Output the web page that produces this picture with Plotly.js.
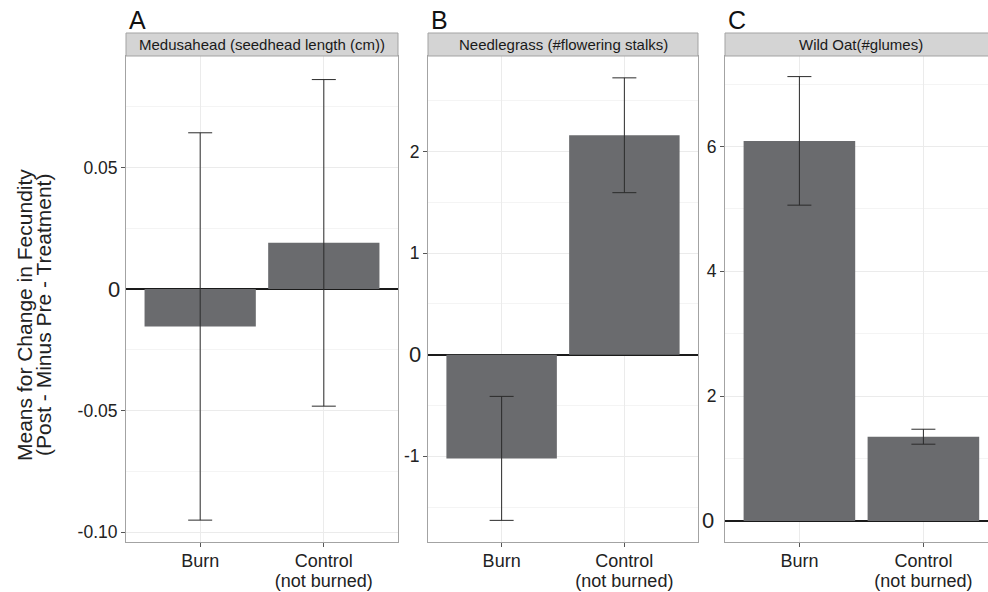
<!DOCTYPE html>
<html>
<head>
<meta charset="utf-8">
<script src="https://cdn.plot.ly/plotly-3.0.1.min.js"></script>
<style>html,body{margin:0;padding:0;background:#fff;}#chart{width:988px;height:592px;}</style>
</head>
<body>
<div id="chart"></div>
<script>
// ---- data ----
const categories = ["Burn", "Control<br>(not burned)"];
const panelLetters = ["A", "B", "C"];
const panelTitles = ["Medusahead (seedhead length (cm))", "Needlegrass (#flowering stalks)", "Wild Oat(#glumes)"];
const medusaheadMean = [-0.0154, 0.0190];
const medusaheadSE = [0.0797, 0.0672];
const needlegrassMean = [-1.02, 2.16];
const needlegrassSE = [0.61, 0.565];
const wildOatMean = [6.09, 1.35];
const wildOatSE = [1.03, 0.12];
const tickValsA = [-0.10, -0.05, 0.05];
const tickTextA = ["-0.10", "-0.05", "0.05"];
const tickValsB = [-1, 1, 2];
const tickTextB = ["-1", "1", "2"];
const tickValsC = [2, 4, 6];
const tickTextC = ["2", "4", "6"];
const yTitleLines = ["Means for Change in Fecundity", "(Post - Minus Pre - Treatment)"];

// ---- layout helpers ----
const W = 988, H = 592;
const FONT = "Liberation Sans, Arial, Helvetica, sans-serif";
const px = v => v / W;
const py = v => (H - v) / H;
// larger glyphs with tighter line spacing for the x tick labels
const xTickText = categories.map(c => c.split("<br>").map(s => '<span style="font-size:18px">' + s + '</span>').join("<br>"));
const panels = [
  {left: 126, right: 398, yrange: [-0.1041, 0.0959], xrange: [-0.6, 1.6], minorDt: 0.025,
   mean: medusaheadMean, se: medusaheadSE, tv: tickValsA, tt: tickTextA, zshift: -4, stripRight: 398},
  {left: 428, right: 698, yrange: [-1.843, 2.94], xrange: [-0.6, 1.6], minorDt: 0.5,
   mean: needlegrassMean, se: needlegrassSE, tv: tickValsB, tt: tickTextB, zshift: -5, stripRight: 698},
  {left: 725, right: 988, yrange: [-0.337, 7.45], xrange: [-0.6, 1.521], minorDt: 1,
   mean: wildOatMean, se: wildOatSE, tv: tickValsC, tt: tickTextC, zshift: -9, stripRight: 997}
];
const plotTop = 56, plotBottom = 542, stripTop = 33;

const data = [];
const layout = {
  width: W, height: H,
  margin: {l: 0, r: 0, t: 0, b: 0},
  paper_bgcolor: "#ffffff",
  plot_bgcolor: "#ffffff",
  showlegend: false,
  font: {family: FONT, color: "#333333"},
  shapes: [],
  annotations: []
};

panels.forEach((p, i) => {
  const n = i === 0 ? "" : String(i + 1);
  data.push({
    type: "bar",
    x: categories,
    y: p.mean,
    xaxis: "x" + n,
    yaxis: "y" + n,
    width: 0.9,
    marker: {color: "#6a6b6e", line: {width: 0}},
    error_y: {type: "data", array: p.se, visible: true, color: "#2b2b2b", thickness: 1, width: 12},
    hoverinfo: "skip"
  });
  layout["xaxis" + n] = {
    domain: [px(p.left), Math.min(1, px(p.right))],
    anchor: "y" + n,
    type: "category",
    range: p.xrange,
    tickmode: "array", tickvals: categories, ticktext: xTickText,
    showgrid: true, gridcolor: "#ebebeb", gridwidth: 1,
    showline: true, mirror: true, linecolor: "#a3a3a3", linewidth: 1,
    ticks: "outside", ticklen: 4, tickcolor: "#555555", tickwidth: 1,
    ticklabelstandoff: 2,
    tickfont: {family: FONT, size: 15, color: "#222222"},
    zeroline: false, fixedrange: true
  };
  layout["yaxis" + n] = {
    domain: [py(plotBottom), py(plotTop)],
    anchor: "x" + n,
    range: p.yrange,
    tickmode: "array", tickvals: p.tv, ticktext: p.tt,
    showgrid: true, gridcolor: "#ebebeb", gridwidth: 1,
    minor: {tickmode: "linear", tick0: 0, dtick: p.minorDt, showgrid: true, gridcolor: "#f4f4f4", gridwidth: 1, ticks: ""},
    showline: true, mirror: true, linecolor: "#a3a3a3", linewidth: 1,
    ticks: "outside", ticklen: 4, tickcolor: "#555555", tickwidth: 1,
    tickfont: {family: FONT, size: 17.5, color: "#222222"},
    zeroline: true, zerolinecolor: "#1a1a1a", zerolinewidth: 2,
    fixedrange: true
  };
  // strip
  layout.shapes.push({
    type: "rect", xref: "paper", yref: "paper",
    x0: px(p.left), x1: px(p.stripRight), y0: py(plotTop), y1: py(stripTop),
    fillcolor: "#d4d4d4", line: {color: "#a3a3a3", width: 1}, layer: "above"
  });
  layout.annotations.push({
    xref: "paper", yref: "paper",
    x: px((p.left + p.stripRight) / 2), y: py((stripTop + plotTop) / 2),
    text: panelTitles[i], showarrow: false, xanchor: "center", yanchor: "middle",
    font: {family: FONT, size: 15, color: "#1a1a1a"}
  });
  // panel letter
  layout.annotations.push({
    xref: "paper", yref: "paper",
    x: px(p.left + 1), y: py(20),
    text: panelLetters[i], showarrow: false, xanchor: "left", yanchor: "middle",
    font: {family: FONT, size: 25, color: "#111111"}
  });
  // zero label
  layout.annotations.push({
    xref: "x" + n + " domain", yref: "y" + n,
    x: 0, y: 0, xshift: p.zshift,
    text: "0", showarrow: false, xanchor: "right", yanchor: "middle",
    font: {family: FONT, size: 22, color: "#222222"}
  });
});

// y-axis title (two lines)
[25, 44].forEach((xp, k) => {
  layout.annotations.push({
    xref: "paper", yref: "paper",
    x: px(xp), y: py(315),
    text: yTitleLines[k], showarrow: false, textangle: -90,
    xanchor: "center", yanchor: "middle",
    font: {family: FONT, size: 21, color: "#222222"}
  });
});

Plotly.newPlot("chart", data, layout, {staticPlot: true, displayModeBar: false});
</script>
</body>
</html>
